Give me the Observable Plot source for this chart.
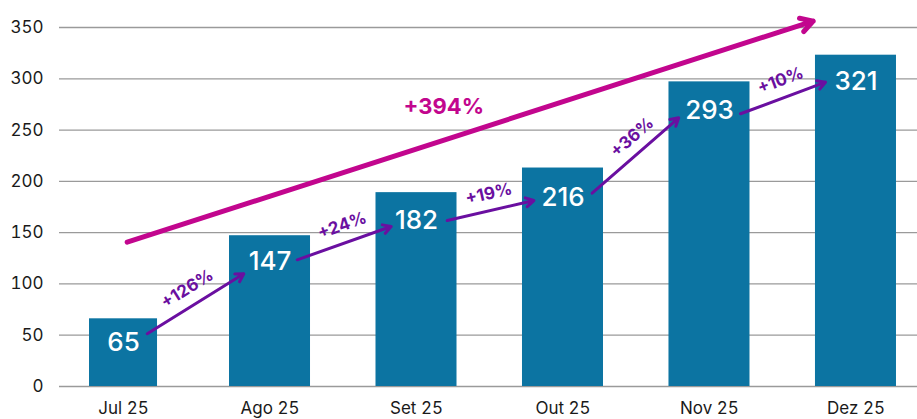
<!DOCTYPE html>
<html><head><meta charset="utf-8">
<script src="https://cdn.jsdelivr.net/npm/d3@7"></script>
<script src="https://cdn.jsdelivr.net/npm/@observablehq/plot@0.6"></script>
<style>html,body{margin:0;padding:0;background:#fff} #chart svg{display:block}</style>
</head><body><div id="chart"></div>
<script>
// ---- data ----
const months = ["Jul 25","Ago 25","Set 25","Out 25","Nov 25","Dez 25"];
const barValues = [66, 147, 189, 213, 297, 323];          // bar heights as drawn
const valueLabels = ["65","147","182","216","293","321"]; // labels printed on bars
const valueLabelY = [43, 122, 162, 184, 269, 297];        // label anchor (data units)
const yTicks = [0, 50, 100, 150, 200, 250, 300, 350];

const growthLabels = ["+126%","+24%","+19%","+36%","+10%"];
const arrowFromX = [0.162, 1.186, 2.210, 3.199, 4.212];
const arrowFromY = [51.4, 123.5, 161.8, 188.5, 265.9];
const arrowToX   = [0.821, 1.827, 2.801, 3.790, 4.792];
const arrowToY   = [109.9, 156.0, 181.3, 262.0, 296.7];
const growthLabelX = [0.435, 1.493, 2.494, 3.472, 4.485];
const growthLabelY = [95.3, 157.0, 187.9, 243.0, 298.3];

const totalLabel = "+394%";
const totalArrow = {x1: 0.025, y1: 140.7, x2: 4.708, y2: 356.2};
const totalLabelPos = {x: 2.186, y: 273};

// ---- layout ----
const W = 917, H = 419, mL = 59, mR = 0, mT = 27, mB = 33;
const xDomain = [-0.437, 5.42], yDomain = [0, 350];
const xs = d3.scaleLinear(xDomain, [mL, W - mR]);
const ys = d3.scaleLinear(yDomain, [H - mB, mT]);

const bars = months.map((m, i) => ({i, month: m, v: barValues[i], label: valueLabels[i], ly: valueLabelY[i]}));
const arrows = growthLabels.map((g, i) => ({
  x1: arrowFromX[i], y1: arrowFromY[i], x2: arrowToX[i], y2: arrowToY[i],
  label: g, lx: growthLabelX[i], ly: growthLabelY[i],
  angle: Math.atan2(ys(arrowToY[i]) - ys(arrowFromY[i]), xs(arrowToX[i]) - xs(arrowFromX[i])) * 180 / Math.PI
}));

const BAR = "#0c74a2", PURPLE = "#6a0fa0", MAGENTA = "#c2068e";
const half = 0.2765;

const chart = Plot.plot({
  width: W, height: H,
  marginLeft: mL, marginRight: mR, marginTop: mT, marginBottom: mB,
  style: {fontFamily: "Inter, 'DejaVu Sans', sans-serif", background: "#fff", overflow: "visible"},
  x: {domain: xDomain},
  y: {domain: yDomain},
  marks: [
    Plot.gridY(yTicks, {stroke: "#9a9a9a", strokeOpacity: 1, strokeWidth: 1.3}),
    Plot.axisY(yTicks, {tickSize: 0, tickPadding: 16, fontSize: 17, color: "#1a1a1a", label: null}),
    Plot.axisX(d3.range(months.length), {tickSize: 0, tickPadding: 15, fontSize: 17, color: "#1a1a1a", label: null, tickFormat: i => months[i]}),
    Plot.rectY(bars.filter(d => d.i === 0), {x1: d => d.i - half, x2: d => d.i + half, y: "v", fill: BAR, insetLeft: 6.5, insetRight: 6.5}),
    Plot.rectY(bars.filter(d => d.i !== 0), {x1: d => d.i - half, x2: d => d.i + half, y: "v", fill: BAR}),
    Plot.text(bars, {x: "i", y: "ly", text: "label", fill: "#fff", fontSize: 26, fontWeight: 500, textAnchor: "middle", lineAnchor: "middle"}),
    Plot.arrow([totalArrow], {x1: "x1", y1: "y1", x2: "x2", y2: "y2", stroke: MAGENTA, strokeWidth: 5, headLength: 4.2, bend: 0}),
    Plot.text([totalLabelPos], {x: "x", y: "y", text: () => totalLabel, fill: MAGENTA, fontSize: 22, fontWeight: 700, textAnchor: "middle", lineAnchor: "middle"}),
    Plot.arrow(arrows, {x1: "x1", y1: "y1", x2: "x2", y2: "y2", stroke: PURPLE, strokeWidth: 3, headLength: 4.5, bend: 0}),
    Plot.text(arrows, {x: "lx", y: "ly", text: "label", rotate: "angle", fill: PURPLE, fontSize: 17, fontWeight: 700, textAnchor: "middle", lineAnchor: "middle"})
  ]
});
document.getElementById("chart").appendChild(chart);
</script>
</body></html>
